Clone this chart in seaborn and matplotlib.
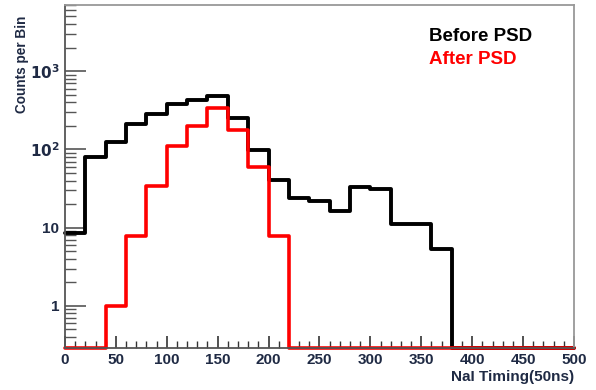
"""NaI timing histogram before and after PSD."""

import matplotlib
matplotlib.use("Agg")
import matplotlib.pyplot as plt
import matplotlib.ticker as mticker
import numpy as np
import pandas as pd
import seaborn as sns

# bin edges in units of 50 ns
bin_edges = np.arange(0, 520, 20)
before_psd = [8.6, 79, 126, 210, 285, 385, 430, 480, 250, 97, 41, 24, 22, 16.5,
              33, 31, 11, 11, 5.4, 0, 0, 0, 0, 0, 0]
after_psd = [0, 0, 1.0, 7.7, 34, 112, 197, 335, 175, 59, 7.7, 0, 0, 0,
             0, 0, 0, 0, 0, 0, 0, 0, 0, 0, 0]
y_floor = 0.29
y_top = 7000

centers = (bin_edges[:-1] + bin_edges[1:]) / 2
df = pd.DataFrame({
    "timing": np.concatenate([centers, centers]),
    "counts": np.concatenate([before_psd, after_psd]),
    "stage": ["Before PSD"] * len(centers) + ["After PSD"] * len(centers),
})
# empty bins are drawn on the floor of the log axis, like ROOT does
df["counts"] = df["counts"].where(df["counts"] > 0, y_floor)

sns.set_style("ticks")
plt.rcParams["font.family"] = ["Liberation Sans", "DejaVu Sans"]

fig = plt.figure(figsize=(5.96, 3.9), dpi=100)
ax = fig.add_axes([0.109, 0.108, 0.854, 0.879])

bin_width = bin_edges[1] - bin_edges[0]
for stage, color, lw in [("Before PSD", "black", 2.8), ("After PSD", "#ff0000", 2.6)]:
    sub = df[df["stage"] == stage]
    sns.histplot(data=sub, x="timing", weights="counts", binwidth=bin_width,
                 binrange=(bin_edges[0], bin_edges[-1]),
                 element="step", fill=False, color=color, linewidth=lw, ax=ax)
for line in ax.lines:
    line.set_clip_on(False)

ax.set_yscale("log")
ax.set_xlim(0, 500)
ax.set_ylim(y_floor, y_top)

ax.xaxis.set_major_locator(mticker.MultipleLocator(50))
ax.xaxis.set_minor_locator(mticker.MultipleLocator(10))
ax.yaxis.set_major_locator(mticker.FixedLocator([1, 10, 100, 1000]))
ax.yaxis.set_major_formatter(mticker.FixedFormatter(["1", "10", r"$\mathbf{10^2}$", r"$\mathbf{10^3}$"]))
ax.yaxis.set_minor_locator(mticker.LogLocator(base=10, subs=np.arange(2, 10)))
ax.yaxis.set_minor_formatter(mticker.NullFormatter())

label_color = "#1f2a44"
ax.tick_params(axis="x", which="major", direction="in", length=9, width=1.2, color="#333333",
               labelsize=11, labelcolor=label_color, pad=4)
ax.tick_params(axis="x", which="minor", direction="in", length=5, width=1.0, color="#333333")
ax.tick_params(axis="y", which="major", direction="in", length=15, width=1.2, color="#555555",
               labelsize=11, labelcolor=label_color, pad=4)
ax.tick_params(axis="y", which="minor", direction="in", length=8, width=1.0, color="#555555")
for lab in ax.get_xticklabels() + ax.get_yticklabels():
    lab.set_fontweight("bold")

for side in ["left", "bottom"]:
    ax.spines[side].set_color("#555555")
    ax.spines[side].set_linewidth(1.3)
for side in ["top", "right"]:
    ax.spines[side].set_color("#999999")
    ax.spines[side].set_linewidth(1.3)

ax.set_xlabel("")
ax.set_ylabel("")
fig.text(0.963, 0.033, "NaI Timing(50ns)", ha="right", va="center", fontsize=11,
         fontweight="bold", color=label_color)
fig.text(0.037, 0.96, "Counts per Bin", ha="center", va="top", rotation=90,
         fontsize=9.8, fontweight="bold", color=label_color)

ax.text(0.716, 0.907, "Before PSD", transform=ax.transAxes, fontsize=13.5,
        fontweight="bold", color="black", va="center")
ax.text(0.716, 0.84, "After PSD", transform=ax.transAxes, fontsize=13.5,
        fontweight="bold", color="#ff0000", va="center")

fig.savefig("out.png", dpi=100)
